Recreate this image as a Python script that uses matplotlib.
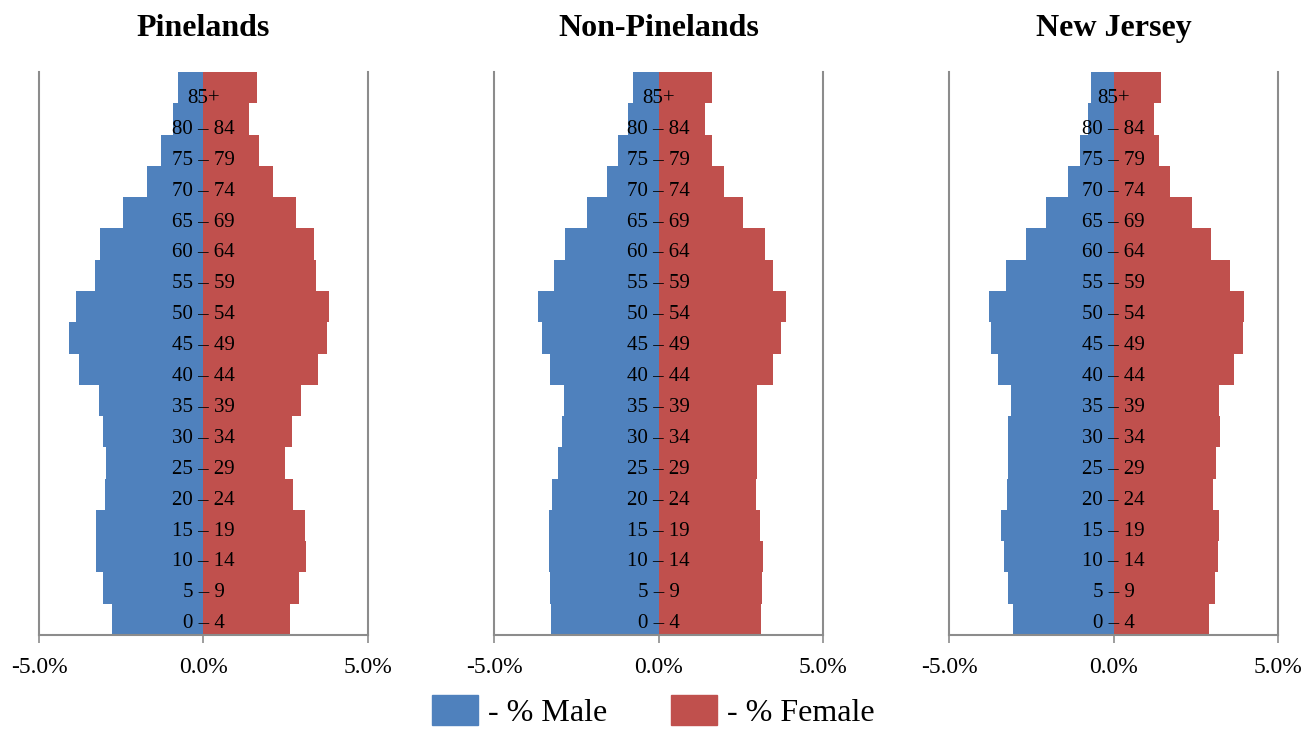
import matplotlib
matplotlib.use('Agg')
import matplotlib.pyplot as plt
import numpy as np

plt.rcParams['font.family'] = ['Liberation Serif', 'DejaVu Serif']

# age groups, bottom to top
ages = ['0 – 4', '5 – 9', '10 – 14', '15 – 19', '20 – 24', '25 – 29', '30 – 34',
        '35 – 39', '40 – 44', '45 – 49', '50 – 54', '55 – 59', '60 – 64',
        '65 – 69', '70 – 74', '75 – 79', '80 – 84', '85+']

titles = ['Pinelands', 'Non-Pinelands', 'New Jersey']

# percent of population (male shown on the left as negative)
pine_male = [2.78, 3.04, 3.27, 3.28, 2.98, 2.96, 3.05, 3.17, 3.78, 4.08,
             3.89, 3.31, 3.16, 2.46, 1.73, 1.30, 0.94, 0.79]
pine_female = [2.63, 2.90, 3.12, 3.08, 2.73, 2.47, 2.70, 2.95, 3.48, 3.74,
               3.80, 3.42, 3.36, 2.80, 2.10, 1.68, 1.38, 1.62]

nonpine_male = [3.26, 3.31, 3.33, 3.33, 3.24, 3.04, 2.94, 2.86, 3.29, 3.53,
                3.66, 3.19, 2.84, 2.17, 1.58, 1.22, 0.93, 0.78]
nonpine_female = [3.11, 3.14, 3.19, 3.10, 2.97, 2.99, 2.99, 2.99, 3.47, 3.72,
                  3.89, 3.48, 3.23, 2.57, 1.98, 1.63, 1.40, 1.62]

nj_male = [3.04, 3.22, 3.33, 3.42, 3.24, 3.22, 3.20, 3.13, 3.51, 3.73,
           3.78, 3.28, 2.66, 2.06, 1.39, 1.02, 0.77, 0.67]
nj_female = [2.91, 3.09, 3.19, 3.22, 3.03, 3.12, 3.25, 3.21, 3.66, 3.93,
             3.97, 3.53, 2.96, 2.39, 1.73, 1.39, 1.22, 1.45]

males = [pine_male, nonpine_male, nj_male]
females = [pine_female, nonpine_female, nj_female]

blue = '#4F81BD'
red = '#C0504D'
grey = '#8C8C8C'

fig = plt.figure(figsize=(13.06, 7.31), dpi=100)
lefts = [39 / 1306, 494 / 1306, 949 / 1306]
y = np.arange(len(ages))

for i in range(3):
    ax = fig.add_axes([lefts[i], 0.1313, 329 / 1306, 0.7702])
    ax.barh(y, -np.array(males[i]), height=1.0, color=blue, linewidth=0)
    ax.barh(y, females[i], height=1.0, color=red, linewidth=0)
    for j, lab in enumerate(ages):
        ax.text(0, j - 0.14 - 0.012 * j, lab, ha='center', va='center', fontsize=15, color='black')
    ax.set_xlim(-5, 5)
    ax.set_ylim(-0.5, 17.5)
    ax.set_xticks([-5, 0, 5])
    ax.set_xticklabels(['-5.0%', '0.0%', '5.0%'], fontsize=17)
    ax.set_yticks([])
    ax.spines['top'].set_visible(False)
    for s in ['left', 'right', 'bottom']:
        ax.spines[s].set_color(grey)
        ax.spines[s].set_linewidth(1.5)
    ax.tick_params(axis='x', direction='out', length=6, color=grey, width=1.2, pad=10)
    ax.set_title(titles[i], fontsize=23, fontweight='bold', pad=26)

handles = [plt.Rectangle((0, 0), 1, 1, color=blue), plt.Rectangle((0, 0), 1, 1, color=red)]
fig.legend(handles, ['- % Male', '- % Female'], loc='lower center', ncol=2,
           bbox_to_anchor=(0.5, -0.026), frameon=False, fontsize=23,
           handlelength=1.45, handleheight=1.05, columnspacing=2.0, handletextpad=0.3,
           borderpad=0.2)

fig.savefig('out.png', dpi=100)
